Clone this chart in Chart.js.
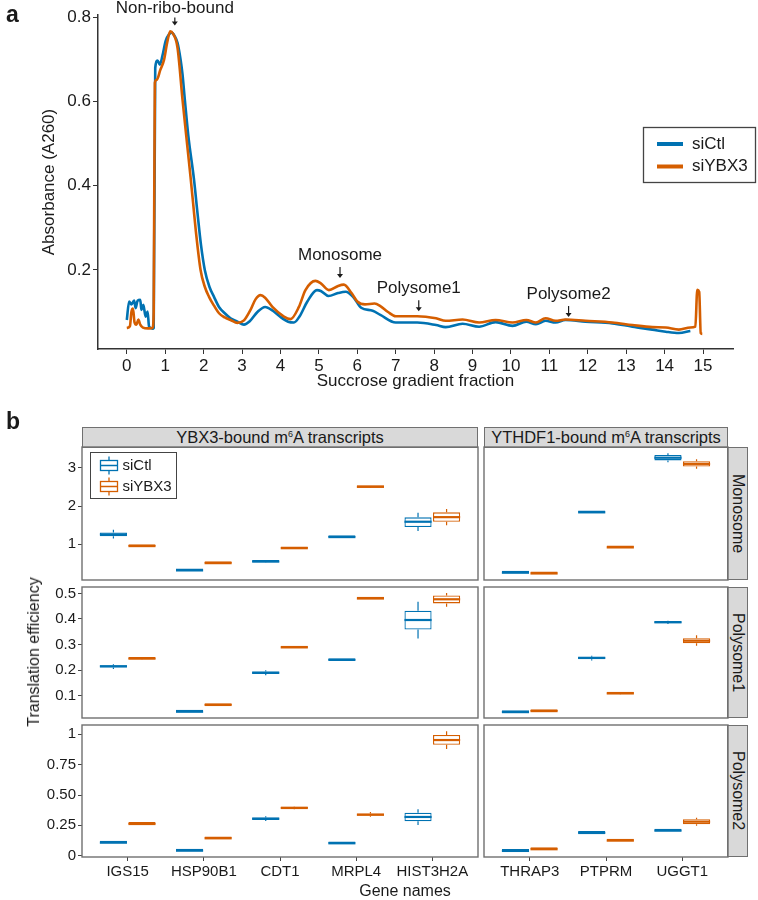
<!DOCTYPE html>
<html>
<head>
<meta charset="utf-8">
<script src="https://cdn.jsdelivr.net/npm/chart.js@4.4.0/dist/chart.umd.min.js"></script>
<style>
  body { margin: 0; background: #fff; font-family: "Liberation Sans", Arial, sans-serif; color: #1a1a1a; }
  #page { position: relative; width: 758px; height: 900px; overflow: hidden; }
  canvas { position: absolute; }
  .txt { position: absolute; white-space: nowrap; }
  .tag { font-weight: bold; font-size: 23px; }
  .strip { position: absolute; box-sizing: border-box; background: #d9d9d9; border: 1.3px solid #707070;
           display: flex; align-items: center; justify-content: center; font-size: 16.5px; }
  .strip.side { writing-mode: vertical-rl; font-size: 16px; }
  .strip span { white-space: nowrap; }
  sup { font-size: 9px; vertical-align: super; line-height: 0; }
</style>
</head>
<body>
<div id="page">
  <canvas id="profile" width="758" height="400" style="left:0;top:0"></canvas>
  <div class="txt tag" style="left:6px;top:1px">a</div>
  <div class="txt tag" style="left:6px;top:408px">b</div>

  <div class="strip" style="left:82px;top:427px;width:396px;height:21px"><span>YBX3-bound m<sup>6</sup>A transcripts</span></div>
  <div class="strip" style="left:484px;top:427px;width:244px;height:21px"><span>YTHDF1-bound m<sup>6</sup>A transcripts</span></div>
  <div class="strip side" style="left:727px;top:447px;width:21px;height:133px"><span>Monosome</span></div>
  <div class="strip side" style="left:727px;top:587px;width:21px;height:131px"><span>Polysome1</span></div>
  <div class="strip side" style="left:727px;top:725px;width:21px;height:132px"><span>Polysome2</span></div>

  <canvas id="b11" width="442" height="145" style="left:40px;top:441px"></canvas>
  <canvas id="b12" width="252" height="145" style="left:480px;top:441px"></canvas>
  <canvas id="b21" width="442" height="143" style="left:40px;top:581px"></canvas>
  <canvas id="b22" width="252" height="143" style="left:480px;top:581px"></canvas>
  <canvas id="b31" width="442" height="166" style="left:40px;top:719px"></canvas>
  <canvas id="b32" width="252" height="166" style="left:480px;top:719px"></canvas>

  <div class="txt" style="left:34px;top:652px;font-size:16px;transform:translate(-50%,-50%) rotate(-90deg)">Translation efficiency</div>
  <div class="txt" style="left:405px;top:891px;font-size:16px;transform:translate(-50%,-50%)">Gene names</div>
</div>
<script>
// ---- panel a: sucrose gradient profile ----
const fracTicks = [0, 1, 2, 3, 4, 5, 6, 7, 8, 9, 10, 11, 12, 13, 14, 15];
const absTicks = [0.2, 0.4, 0.6, 0.8];

const ctlX = [0, 0.06, 0.12, 0.19, 0.23, 0.28, 0.35, 0.38, 0.43, 0.49, 0.54, 0.58, 0.67, 0.7, 0.74, 0.8, 0.86, 0.93,
  1.01, 1.1, 1.17, 1.25, 1.32, 1.4, 1.45, 1.51, 1.6, 1.75, 1.84, 1.93, 2.03, 2.15, 2.27, 2.4, 2.55, 2.7, 2.88,
  3.05, 3.2, 3.4, 3.6, 3.8, 4.0, 4.2, 4.35, 4.5, 4.7, 4.95, 5.05, 5.25, 5.5, 5.7, 5.9, 6.1, 6.4, 6.6, 7.0, 7.56,
  8.05, 8.3, 8.74, 9.17, 9.6, 10.04, 10.4, 10.65, 10.9, 11.16, 11.42, 11.94, 12.64, 13.16, 13.68, 14.03, 14.37, 14.67];
const ctlY = [0.081, 0.125, 0.118, 0.127, 0.109, 0.127, 0.129, 0.105, 0.117, 0.089, 0.101, 0.065, 0.06, 0.062, 0.68, 0.698, 0.688, 0.71,
  0.744, 0.76, 0.764, 0.755, 0.74, 0.70, 0.665, 0.605, 0.52, 0.414, 0.335, 0.26, 0.2, 0.16, 0.136, 0.112, 0.097, 0.085, 0.077,
  0.07, 0.078, 0.1, 0.112, 0.103, 0.088, 0.077, 0.075, 0.09, 0.125, 0.152, 0.15, 0.138, 0.145, 0.148, 0.135, 0.11, 0.103, 0.093, 0.075, 0.075,
  0.069, 0.064, 0.072, 0.065, 0.076, 0.067, 0.077, 0.071, 0.079, 0.075, 0.081, 0.077, 0.073, 0.065, 0.058, 0.053, 0.05, 0.055];

const ybxX = [0, 0.08, 0.12, 0.16, 0.2, 0.25, 0.3, 0.35, 0.42, 0.55, 0.67, 0.7, 0.73, 0.78, 0.87, 0.97, 1.05, 1.13, 1.2,
  1.32, 1.45, 1.58, 1.66, 1.73, 1.8, 1.92, 2.03, 2.14, 2.27, 2.4, 2.55, 2.7, 2.88, 3.05, 3.22, 3.35, 3.48, 3.6, 3.79,
  4.09, 4.26, 4.48, 4.65, 4.91, 5.05, 5.26, 5.5, 5.65, 5.85, 6.0, 6.2, 6.45, 6.6, 6.8, 7.0, 7.56, 8.05, 8.3, 8.74,
  9.17, 9.6, 10.04, 10.4, 10.65, 10.9, 11.16, 11.42, 11.94, 12.64, 13.16, 13.68, 14.03, 14.37, 14.67, 14.8, 14.85, 14.9, 14.94, 14.98];
const ybxY = [0.062, 0.066, 0.1, 0.108, 0.076, 0.07, 0.082, 0.07, 0.063, 0.061, 0.062, 0.1, 0.645, 0.652, 0.675, 0.70, 0.74, 0.767, 0.762,
  0.728, 0.605, 0.49, 0.42, 0.355, 0.29, 0.2, 0.16, 0.136, 0.115, 0.097, 0.087, 0.081, 0.074, 0.08, 0.105, 0.13, 0.14, 0.134, 0.112,
  0.089, 0.083, 0.112, 0.152, 0.174, 0.168, 0.152, 0.162, 0.165, 0.145, 0.125, 0.118, 0.12, 0.114, 0.1, 0.09, 0.09, 0.085, 0.079, 0.082,
  0.075, 0.081, 0.075, 0.081, 0.075, 0.085, 0.079, 0.082, 0.079, 0.075, 0.069, 0.064, 0.063, 0.058, 0.063, 0.065, 0.153, 0.148, 0.05, 0.048];

const peakNames = ["Non-ribo-bound", "Monosome", "Polysome1", "Polysome2"];
const peakX = [1.25, 5.55, 7.6, 11.5];
const peakY = [0.781, 0.181, 0.102, 0.088];
const peakArrow = [8, 11, 11, 11];

// ---- panel b: translation efficiency, [min, q1, median, q3, max] ----
const genesYbx3 = ["IGS15", "HSP90B1", "CDT1", "MRPL4", "HIST3H2A"];
const genesYthdf1 = ["THRAP3", "PTPRM", "UGGT1"];

const monoCtl = [[1.15, 1.21, 1.26, 1.31, 1.38], [0.31, 0.315, 0.32, 0.325, 0.33], [0.53, 0.54, 0.55, 0.56, 0.57],
  [1.18, 1.185, 1.19, 1.195, 1.2], [1.35, 1.45, 1.59, 1.705, 1.825],
  [0.255, 0.258, 0.26, 0.262, 0.265], [1.83, 1.832, 1.835, 1.838, 1.84], [3.14, 3.19, 3.26, 3.33, 3.38]];
const monoYbx = [[0.945, 0.95, 0.955, 0.96, 0.965], [0.5, 0.505, 0.51, 0.515, 0.52], [0.89, 0.895, 0.9, 0.905, 0.91],
  [2.48, 2.49, 2.5, 2.51, 2.52], [1.5, 1.59, 1.71, 1.835, 1.92],
  [0.235, 0.238, 0.24, 0.242, 0.245], [0.915, 0.918, 0.92, 0.922, 0.925], [2.97, 3.03, 3.1, 3.17, 3.22]];
const poly1Ctl = [[0.205, 0.21, 0.215, 0.219, 0.223], [0.036, 0.037, 0.0375, 0.038, 0.039], [0.18, 0.185, 0.19, 0.195, 0.2],
  [0.238, 0.239, 0.24, 0.241, 0.242], [0.324, 0.359, 0.396, 0.432, 0.467],
  [0.035, 0.0355, 0.036, 0.0365, 0.037], [0.238, 0.243, 0.248, 0.252, 0.256], [0.38, 0.384, 0.387, 0.39, 0.393]];
const poly1Ybx = [[0.243, 0.244, 0.245, 0.246, 0.247], [0.062, 0.063, 0.064, 0.065, 0.066], [0.287, 0.288, 0.289, 0.29, 0.291],
  [0.478, 0.479, 0.48, 0.481, 0.482], [0.448, 0.461, 0.477, 0.492, 0.502],
  [0.039, 0.0395, 0.04, 0.0405, 0.041], [0.106, 0.108, 0.109, 0.11, 0.112], [0.295, 0.305, 0.315, 0.325, 0.336]];
const poly2Ctl = [[0.105, 0.106, 0.107, 0.108, 0.109], [0.039, 0.04, 0.041, 0.042, 0.043], [0.285, 0.295, 0.305, 0.315, 0.325],
  [0.1, 0.101, 0.102, 0.103, 0.104], [0.253, 0.283, 0.319, 0.354, 0.382],
  [0.037, 0.038, 0.039, 0.04, 0.041], [0.185, 0.186, 0.187, 0.188, 0.189], [0.204, 0.205, 0.206, 0.207, 0.208]];
const poly2Ybx = [[0.259, 0.26, 0.261, 0.262, 0.263], [0.141, 0.142, 0.143, 0.144, 0.145], [0.383, 0.388, 0.393, 0.398, 0.403],
  [0.32, 0.33, 0.338, 0.348, 0.36], [0.879, 0.914, 0.953, 0.994, 1.025],
  [0.051, 0.052, 0.053, 0.054, 0.055], [0.122, 0.123, 0.124, 0.125, 0.126], [0.247, 0.259, 0.28, 0.30, 0.313]];

const monoTicks = [1, 2, 3];
const monoLabels = ["1", "2", "3"];
const poly1Ticks = [0.1, 0.2, 0.3, 0.4, 0.5];
const poly1Labels = ["0.1", "0.2", "0.3", "0.4", "0.5"];
const poly2Ticks = [0, 0.25, 0.5, 0.75, 1];
const poly2Labels = ["0", "0.25", "0.50", "0.75", "1"];

const BLUE = "#0072B2";
const ORANGE = "#D55E00";
const INK = "#1a1a1a";
const FRAME = "#707070";

Chart.defaults.font.family = "'Liberation Sans', Arial, sans-serif";
Chart.defaults.color = INK;
Chart.defaults.animation = false;

// ---- panel a ----
const profileDecor = {
  id: "profileDecor",
  afterDraw(chart) {
    const ctx = chart.ctx, xs = chart.scales.x, ys = chart.scales.y;
    ctx.save();
    // peak labels with arrows
    ctx.fillStyle = INK;
    ctx.strokeStyle = INK;
    ctx.font = "17px 'Liberation Sans', Arial, sans-serif";
    ctx.textAlign = "center";
    ctx.textBaseline = "middle";
    peakNames.forEach((name, i) => {
      const px = xs.getPixelForValue(peakX[i]);
      const py = ys.getPixelForValue(peakY[i]);
      const len = peakArrow[i];
      ctx.lineWidth = 1.2;
      ctx.beginPath();
      ctx.moveTo(px, py - len);
      ctx.lineTo(px, py - 2);
      ctx.stroke();
      ctx.beginPath();
      ctx.moveTo(px - 3, py - 4);
      ctx.lineTo(px + 3, py - 4);
      ctx.lineTo(px, py);
      ctx.closePath();
      ctx.fill();
      ctx.fillText(name, px, py - 2 * len - 1);
    });
    // legend
    ctx.lineWidth = 1.3;
    ctx.strokeStyle = "#444";
    ctx.fillStyle = "#fff";
    ctx.fillRect(643.5, 127.5, 112, 55);
    ctx.strokeRect(643.5, 127.5, 112, 55);
    const items = [["siCtl", BLUE], ["siYBX3", ORANGE]];
    items.forEach(([name, col], i) => {
      const y = 144 + i * 22.5;
      ctx.strokeStyle = col;
      ctx.lineWidth = 4;
      ctx.beginPath();
      ctx.moveTo(657, y);
      ctx.lineTo(683, y);
      ctx.stroke();
      ctx.fillStyle = INK;
      ctx.textAlign = "left";
      ctx.fillText(name, 692, y);
    });
    ctx.restore();
  }
};

new Chart(document.getElementById("profile"), {
  type: "line",
  data: {
    datasets: [
      { label: "siCtl", data: ctlX.map((x, i) => ({ x, y: ctlY[i] })), borderColor: BLUE, borderWidth: 2.6,
        pointRadius: 0, cubicInterpolationMode: "monotone", order: 2 },
      { label: "siYBX3", data: ybxX.map((x, i) => ({ x, y: ybxY[i] })), borderColor: ORANGE, borderWidth: 2.6,
        pointRadius: 0, cubicInterpolationMode: "monotone", order: 1 }
    ]
  },
  options: {
    responsive: false,
    layout: { padding: { left: 0, right: 25, top: 15, bottom: 0 } },
    plugins: { legend: { display: false }, tooltip: { enabled: false } },
    scales: {
      x: {
        type: "linear", min: -0.75, max: 15.78,
        afterBuildTicks: s => { s.ticks = fracTicks.map(v => ({ value: v })); },
        afterFit: s => { s.height = 51; },
        ticks: { autoSkip: false, maxRotation: 0, padding: 2, font: { size: 17 }, color: INK },
        grid: { drawOnChartArea: false, tickLength: 5, color: "#333" },
        border: { display: true, color: "#333", width: 1.5 },
        title: { display: true, text: "Succrose gradient fraction", font: { size: 17 }, color: INK, padding: { top: 0, bottom: 8 } }
      },
      y: {
        type: "linear", min: 0.012, max: 0.806,
        afterBuildTicks: s => { s.ticks = absTicks.map(v => ({ value: v })); },
        afterFit: s => { s.width = 98; s.paddingTop = 0; s.paddingBottom = 0; },
        ticks: { autoSkip: false, padding: 2, font: { size: 17 }, color: INK, callback: v => v.toFixed(1) },
        grid: { drawOnChartArea: false, tickLength: 5, color: "#333" },
        border: { display: true, color: "#333", width: 1.5 },
        title: { display: true, text: "Absorbance (A260)", font: { size: 17 }, color: INK, padding: { top: 39, bottom: 0 } }
      }
    }
  },
  plugins: [profileDecor]
});

// ---- panel b ----
const boxDecor = {
  id: "boxDecor",
  afterDatasetsDraw(chart) {
    const ctx = chart.ctx, ys = chart.scales.y;
    ctx.save();
    chart.data.datasets.forEach((ds, di) => {
      chart.getDatasetMeta(di).data.forEach((bar, i) => {
        const d = ds.data[i];
        ctx.strokeStyle = ds.borderColor;
        ctx.lineWidth = 1.2;
        ctx.beginPath();
        ctx.moveTo(bar.x, ys.getPixelForValue(d.hi));
        ctx.lineTo(bar.x, ys.getPixelForValue(d.y[1]));
        ctx.moveTo(bar.x, ys.getPixelForValue(d.y[0]));
        ctx.lineTo(bar.x, ys.getPixelForValue(d.lo));
        ctx.stroke();
        const m = ys.getPixelForValue(d.med);
        ctx.lineWidth = 2.2;
        ctx.beginPath();
        ctx.moveTo(bar.x - bar.width / 2, m);
        ctx.lineTo(bar.x + bar.width / 2, m);
        ctx.stroke();
      });
    });
    ctx.restore();
  },
  afterDraw(chart, args, opts) {
    const ctx = chart.ctx, a = chart.chartArea;
    ctx.save();
    ctx.strokeStyle = FRAME;
    ctx.lineWidth = 1.4;
    ctx.strokeRect(a.left, a.top, a.right - a.left, a.bottom - a.top);
    if (opts.legend) {
      const lx = a.left + 8.5, ly = a.top + 5.5;
      ctx.fillStyle = "#fff";
      ctx.strokeStyle = "#444";
      ctx.lineWidth = 1;
      ctx.fillRect(lx, ly, 86, 46);
      ctx.strokeRect(lx, ly, 86, 46);
      ctx.font = "15px 'Liberation Sans', Arial, sans-serif";
      ctx.textBaseline = "middle";
      chart.data.datasets.forEach((ds, i) => {
        const cy = ly + 13 + i * 21;
        const bx = lx + 10;
        ctx.strokeStyle = ds.borderColor;
        ctx.lineWidth = 1.3;
        ctx.strokeRect(bx, cy - 5, 17, 10);
        ctx.beginPath();
        ctx.moveTo(bx, cy); ctx.lineTo(bx + 17, cy);
        ctx.moveTo(bx + 8.5, cy - 9); ctx.lineTo(bx + 8.5, cy - 5);
        ctx.moveTo(bx + 8.5, cy + 5); ctx.lineTo(bx + 8.5, cy + 9);
        ctx.stroke();
        ctx.fillStyle = INK;
        ctx.fillText(ds.label, bx + 22, cy);
      });
    }
    ctx.restore();
  }
};

function boxData(stats) {
  return stats.map((s, i) => ({ x: i + 1, y: [s[1], s[3]], lo: s[0], med: s[2], hi: s[4] }));
}

function boxPanel(id, genes, ctl, ybx, yMin, yMax, yTicks, yLabels, left, bottom, legend) {
  const padL = left ? 0 : 4;
  new Chart(document.getElementById(id), {
    type: "bar",
    data: {
      datasets: [
        { label: "siCtl", data: boxData(ctl), borderColor: BLUE, backgroundColor: "#fff", borderWidth: 1.3,
          borderSkipped: false, minBarLength: 2 },
        { label: "siYBX3", data: boxData(ybx), borderColor: ORANGE, backgroundColor: "#fff", borderWidth: 1.3,
          borderSkipped: false, minBarLength: 2 }
      ]
    },
    options: {
      responsive: false,
      categoryPercentage: 0.75,
      barPercentage: 0.95,
      layout: { padding: { left: padL, right: 4, top: 6, bottom: bottom ? 0 : 6 } },
      plugins: { legend: { display: false }, tooltip: { enabled: false }, boxDecor: { legend } },
      scales: {
        x: {
          type: "linear", min: 0.4, max: genes.length + 0.6, offset: false, display: bottom,
          afterBuildTicks: s => { s.ticks = genes.map((g, i) => ({ value: i + 1 })); },
          afterFit: s => { if (bottom) s.height = 28; s.paddingLeft = 0; s.paddingRight = 0; },
          ticks: { autoSkip: false, maxRotation: 0, padding: 2, font: { size: 15 }, color: INK,
                   callback: (v, i) => genes[i] },
          grid: { display: true, drawOnChartArea: false, offset: false, tickLength: 4, color: "#444" },
          border: { display: false }
        },
        y: {
          type: "linear", min: yMin, max: yMax, display: left,
          afterBuildTicks: s => { s.ticks = yTicks.map(v => ({ value: v })); },
          afterFit: s => { s.width = left ? 42 : 0; s.paddingTop = 0; s.paddingBottom = 0; },
          ticks: { autoSkip: false, padding: 2, font: { size: 15 }, color: INK, callback: (v, i) => yLabels[i] },
          grid: { drawOnChartArea: false, tickLength: 4, color: "#444" },
          border: { display: false }
        }
      }
    },
    plugins: [boxDecor]
  });
}

const nL = genesYbx3.length;
boxPanel("b11", genesYbx3, monoCtl.slice(0, nL), monoYbx.slice(0, nL), 0.07, 3.54, monoTicks, monoLabels, true, false, true);
boxPanel("b12", genesYthdf1, monoCtl.slice(nL), monoYbx.slice(nL), 0.07, 3.54, monoTicks, monoLabels, false, false, false);
boxPanel("b21", genesYbx3, poly1Ctl.slice(0, nL), poly1Ybx.slice(0, nL), 0.013, 0.525, poly1Ticks, poly1Labels, true, false, false);
boxPanel("b22", genesYthdf1, poly1Ctl.slice(nL), poly1Ybx.slice(nL), 0.013, 0.525, poly1Ticks, poly1Labels, false, false, false);
boxPanel("b31", genesYbx3, poly2Ctl.slice(0, nL), poly2Ybx.slice(0, nL), -0.011, 1.077, poly2Ticks, poly2Labels, true, true, false);
boxPanel("b32", genesYthdf1, poly2Ctl.slice(nL), poly2Ybx.slice(nL), -0.011, 1.077, poly2Ticks, poly2Labels, false, true, false);
</script>
</body>
</html>
